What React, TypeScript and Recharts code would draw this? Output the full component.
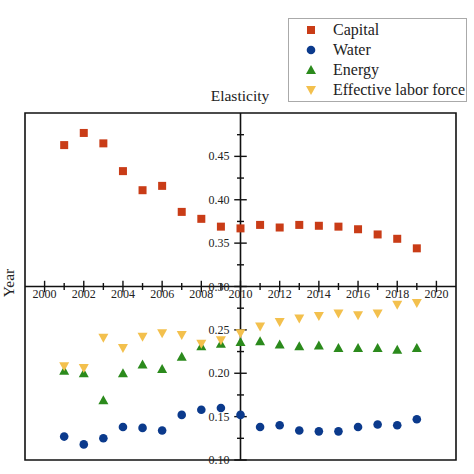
import { ScatterChart, Scatter, XAxis, YAxis, ReferenceLine, ReferenceArea, ReferenceDot } from "recharts";

const years = [2001, 2002, 2003, 2004, 2005, 2006, 2007, 2008, 2009, 2010, 2011, 2012, 2013, 2014, 2015, 2016, 2017, 2018, 2019];
const capital = [0.463, 0.477, 0.465, 0.433, 0.411, 0.416, 0.386, 0.378, 0.369, 0.367, 0.371, 0.368, 0.371, 0.37, 0.369, 0.366, 0.36, 0.355, 0.344];
const water = [0.127, 0.118, 0.125, 0.138, 0.137, 0.134, 0.152, 0.158, 0.16, 0.152, 0.138, 0.14, 0.134, 0.133, 0.133, 0.138, 0.141, 0.14, 0.147];
const energy = [0.203, 0.2, 0.169, 0.2, 0.21, 0.205, 0.219, 0.231, 0.234, 0.236, 0.237, 0.233, 0.231, 0.232, 0.229, 0.229, 0.229, 0.227, 0.229];
const labor = [0.208, 0.206, 0.241, 0.229, 0.242, 0.246, 0.244, 0.234, 0.238, 0.246, 0.254, 0.259, 0.263, 0.266, 0.269, 0.267, 0.269, 0.279, 0.281];

const xMajor = [2000, 2002, 2004, 2006, 2008, 2010, 2012, 2014, 2016, 2018, 2020];
const xMinor = [2001, 2003, 2005, 2007, 2009, 2011, 2013, 2015, 2017, 2019];
const yMajor = [0.1, 0.15, 0.2, 0.25, 0.3, 0.35, 0.4, 0.45];
const yMinor = [0.125, 0.175, 0.225, 0.275, 0.325, 0.375, 0.425, 0.475];

const FONT = "'Liberation Serif', 'Times New Roman', serif";
const C_CAP = "#c93c17";
const C_WAT = "#0b3a8c";
const C_ENE = "#2b8a1c";
const C_LAB = "#f3c04d";

const toPts = (vals: number[]) => years.map((year, i) => ({ year, value: vals[i] }));

const Square = (p: any) => <rect x={p.cx - 4} y={p.cy - 4} width={8} height={8} fill={C_CAP} />;
const Circle = (p: any) => <circle cx={p.cx} cy={p.cy} r={4.3} fill={C_WAT} />;
const TriUp = (p: any) => (
  <polygon points={`${p.cx},${p.cy - 5} ${p.cx + 5},${p.cy + 4} ${p.cx - 5},${p.cy + 4}`} fill={C_ENE} />
);
const TriDown = (p: any) => (
  <polygon points={`${p.cx - 5},${p.cy - 4} ${p.cx + 5},${p.cy - 4} ${p.cx},${p.cy + 5}`} fill={C_LAB} />
);

// tick label drawn at the reference dot position
const xLabel = (txt: string) => (p: any) => (
  <text x={p.cx} y={p.cy + 11} textAnchor="middle" fontSize={12} fontFamily={FONT} fill="#222">{txt}</text>
);
const yLabel = (txt: string) => (p: any) => (
  <text x={p.cx - 11} y={p.cy + 4} textAnchor="end" fontSize={12} fontFamily={FONT} fill="#222">{txt}</text>
);

const legendItems = [
  { name: "Capital", icon: <rect x={2} y={2} width={8} height={8} fill={C_CAP} /> },
  { name: "Water", icon: <circle cx={6} cy={6} r={4.3} fill={C_WAT} /> },
  { name: "Energy", icon: <polygon points="6,1 11,10 1,10" fill={C_ENE} /> },
  { name: "Effective labor force", icon: <polygon points="1,2 11,2 6,11" fill={C_LAB} /> },
];

export default function App() {
  return (
    <div style={{ position: "absolute", left: 0, top: 0, width: 474, height: 474, background: "#fff", fontFamily: FONT }}>
      <ScatterChart width={474} height={474} margin={{ top: 113, right: 18, bottom: 14, left: 25 }}>
        <XAxis type="number" dataKey="year" domain={[1999, 2021]} hide allowDataOverflow />
        <YAxis type="number" dataKey="value" domain={[0.1, 0.5]} hide allowDataOverflow />
        <ReferenceArea x1={1999} x2={2021} y1={0.1} y2={0.5} fill="none" stroke="#111" strokeWidth={1.6} />
        <ReferenceLine x={2010} stroke="#111" strokeWidth={1.6} />
        <ReferenceLine y={0.3} stroke="#111" strokeWidth={1.6} />
        {xMajor.map((yr) => (
          <ReferenceLine key={"xM" + yr} segment={[{ x: yr, y: 0.3 - 0.0066 }, { x: yr, y: 0.3 + 0.0066 }]} stroke="#111" strokeWidth={1.4} />
        ))}
        {xMinor.map((yr) => (
          <ReferenceLine key={"xm" + yr} segment={[{ x: yr, y: 0.3 - 0.004 }, { x: yr, y: 0.3 + 0.004 }]} stroke="#111" strokeWidth={1.4} />
        ))}
        {yMajor.map((v) => (
          <ReferenceLine key={"yM" + v} segment={[{ x: 2010 - 0.32, y: v }, { x: 2010 + 0.32, y: v }]} stroke="#111" strokeWidth={1.4} />
        ))}
        {yMinor.map((v) => (
          <ReferenceLine key={"ym" + v} segment={[{ x: 2010 - 0.18, y: v }, { x: 2010 + 0.18, y: v }]} stroke="#111" strokeWidth={1.4} />
        ))}
        {xMajor.map((yr) => (
          <ReferenceDot key={"xl" + yr} x={yr} y={0.3} r={1} shape={xLabel(String(yr))} />
        ))}
        {yMajor.map((v) => (
          <ReferenceDot key={"yl" + v} x={2010} y={v} r={1} shape={yLabel(v.toFixed(2))} />
        ))}
        <Scatter name="Capital" data={toPts(capital)} shape={Square} isAnimationActive={false} />
        <Scatter name="Water" data={toPts(water)} shape={Circle} isAnimationActive={false} />
        <Scatter name="Energy" data={toPts(energy)} shape={TriUp} isAnimationActive={false} />
        <Scatter name="Effective labor force" data={toPts(labor)} shape={TriDown} isAnimationActive={false} />
        <text x={240} y={97} textAnchor="middle" dominantBaseline="middle" fontSize={15.5} fontFamily={FONT} fill="#222">Elasticity</text>
        <text x={10} y={283} textAnchor="middle" dominantBaseline="middle" fontSize={15.5} fontFamily={FONT} fill="#222" transform="rotate(-90 10 283)">Year</text>
      </ScatterChart>
      <div style={{ position: "absolute", left: 288, top: 18, width: 179, height: 84, border: "1px solid #aaa", boxSizing: "border-box", padding: "1px 0 0 16px", fontFamily: FONT }}>
        {legendItems.map((it) => (
          <div key={it.name} style={{ display: "flex", alignItems: "center", height: 20, fontSize: 16, color: "#222" }}>
            <svg width={12} height={12} style={{ marginRight: 16 }}>{it.icon}</svg>
            <span>{it.name}</span>
          </div>
        ))}
      </div>
    </div>
  );
}
